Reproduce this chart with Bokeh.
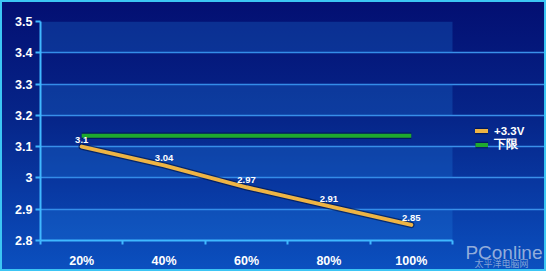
from bokeh.plotting import figure
from bokeh.models import (Range1d, FixedTicker, CustomJSTickFormatter, Legend,
                          LegendItem, Title, ColumnDataSource)
from bokeh.embed import file_html
from bokeh.resources import INLINE
from bokeh.core.properties import value

categories = ["20%", "40%", "60%", "80%", "100%"]
v33 = [3.1, 3.04, 2.97, 2.91, 2.85]
lower = [3.135, 3.135, 3.135, 3.135, 3.135]
y_ticks = [2.8, 2.9, 3.0, 3.1, 3.2, 3.3, 3.4, 3.5]
series_names = ["+3.3V", "下限"]
watermark = ["PConline", "太平洋电脑网"]

xs = [i + 0.5 for i in range(len(categories))]
n = len(categories)

# frame extends to the right edge so the legend can sit inside it
PLOT_W, FRAME_W = 412, 508
p = figure(width=546, height=271, x_range=Range1d(0, n * FRAME_W / PLOT_W),
           y_range=Range1d(y_ticks[0], y_ticks[-1]),
           output_backend="svg", toolbar_location=None,
           min_border_left=38, min_border_right=0, min_border_top=19, min_border_bottom=33)
p.background_fill_color = None
p.border_fill_color = None
p.outline_line_color = None
p.styles = {
    "background": "linear-gradient(to bottom, #030f72 0%, #06268a 45%, #0940ac 80%, #0b50bf 100%)",
    "border": "2px solid #3cc6f4",
}

# alternating lighter bands in plot area
band_src = ColumnDataSource(dict(bottom=y_ticks[:-1:2], top=y_ticks[1::2]))
p.quad(left=0, right=n, bottom="bottom", top="top", fill_color="#2484e4", fill_alpha=0.26,
       line_color=None, source=band_src)

p.xgrid.visible = False
p.ygrid.ticker = FixedTicker(ticks=y_ticks)
p.ygrid.bounds = (0, n)
p.ygrid.grid_line_color = "#3a90ea"
p.ygrid.grid_line_width = 1.3

# y axis
p.yaxis.ticker = FixedTicker(ticks=y_ticks)
p.yaxis.formatter = CustomJSTickFormatter(code="return String(Math.round(tick*10)/10)")
p.yaxis.axis_line_color = "#40b8ff"
p.yaxis.axis_line_width = 2
p.yaxis.major_tick_line_color = "#40b8ff"
p.yaxis.major_tick_line_width = 2
p.yaxis.major_tick_out = 5
p.yaxis.major_tick_in = 0
p.yaxis.minor_tick_line_color = None
p.yaxis.major_label_text_color = "white"
p.yaxis.major_label_text_font = "Liberation Sans"
p.yaxis.major_label_text_font_style = "bold"
p.yaxis.major_label_text_font_size = "12.5px"
p.yaxis.major_label_standoff = 3

# x axis
p.xaxis.ticker = FixedTicker(ticks=xs, minor_ticks=list(range(n + 1)))
p.xaxis.bounds = (0, n)
p.xaxis.formatter = CustomJSTickFormatter(args=dict(labels=categories),
                                          code="return labels[Math.floor(tick)]")
p.xaxis.axis_line_color = "#40b8ff"
p.xaxis.axis_line_width = 2
p.xaxis.major_tick_line_color = None
p.xaxis.minor_tick_line_color = "#40b8ff"
p.xaxis.minor_tick_line_width = 2
p.xaxis.minor_tick_out = 4
p.xaxis.minor_tick_in = 0
p.xaxis.major_label_text_color = "white"
p.xaxis.major_label_text_font = "Liberation Sans"
p.xaxis.major_label_text_font_style = "bold"
p.xaxis.major_label_text_font_size = "12.5px"
p.xaxis.major_label_standoff = 7

# lines
g_sh = p.line(xs, lower, line_color="#001040", line_width=6.5, line_alpha=0.6, line_cap="butt")
g = p.line(xs, lower, line_color="#1eaa2e", line_width=4, line_cap="butt")
o_sh = p.line(xs, v33, line_color="#001040", line_width=6.5, line_alpha=0.6, line_cap="round")
o = p.line(xs, v33, line_color="#eeb444", line_width=4, line_cap="round")

# data labels
p.text(xs, v33, text=[f"{v:g}" for v in v33], text_color="white",
       text_font=value("Liberation Sans"), text_font_style="bold", text_font_size="9.5px",
       text_align="center", text_baseline="bottom", y_offset=-4)

legend = Legend(items=[LegendItem(label=series_names[0], renderers=[o_sh, o]),
                       LegendItem(label=series_names[1], renderers=[g_sh, g])],
                location=(435, 88), padding=0, margin=0, spacing=0,
                glyph_width=13, glyph_height=13, label_height=13, label_standoff=6,
                background_fill_color=None, border_line_color=None,
                label_text_color="white", label_text_font="Liberation Sans",
                label_text_font_style="bold", label_text_font_size="11.5px")
p.add_layout(legend, "center")

p.add_layout(Title(text=watermark[1], align="right", vertical_align="top", offset=20,
                   standoff=-28, text_color="#b8c8e4", text_alpha=0.7,
                   text_font="Noto Sans CJK SC", text_font_style="normal",
                   text_font_size="9px"), "below")
p.add_layout(Title(text=watermark[0], align="right", vertical_align="top", offset=6,
                   standoff=-57, text_color="#b8c8e4", text_alpha=0.8,
                   text_font="Liberation Sans", text_font_style="normal",
                   text_font_size="19px"), "below")

open("out.html", "w").write(file_html(p, INLINE))
